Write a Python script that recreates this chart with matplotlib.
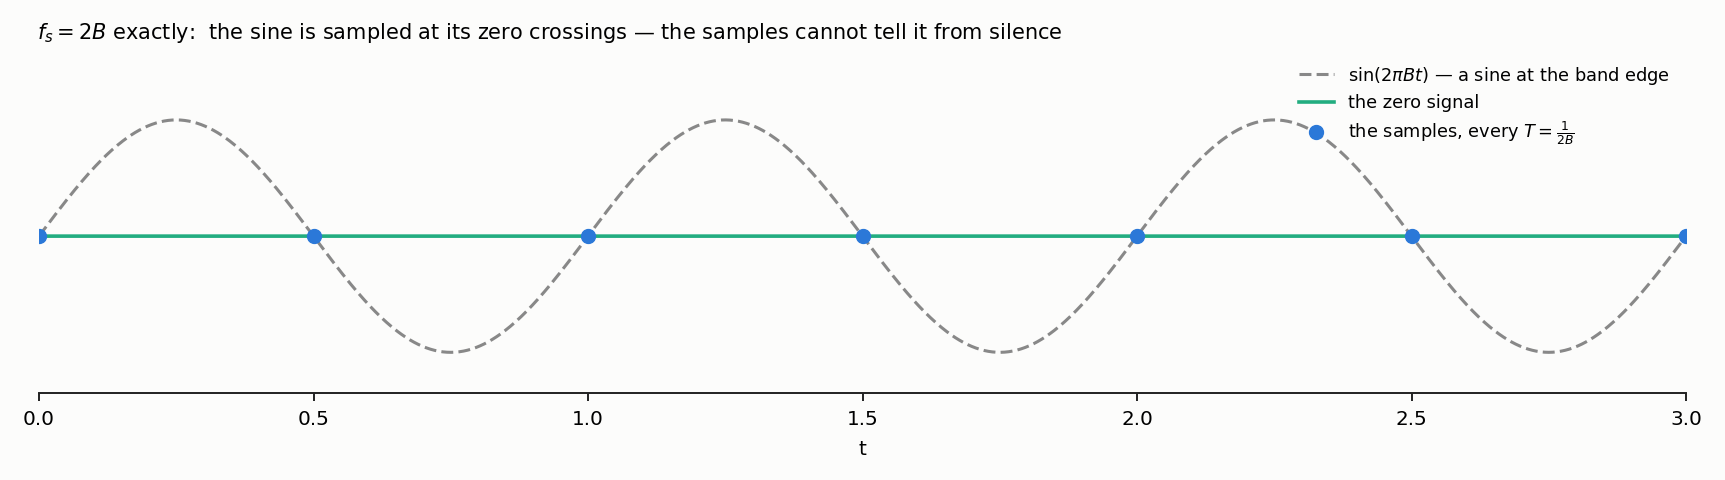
import numpy as np
import matplotlib
matplotlib.use("Agg")
import matplotlib.pyplot as plt

# --- data ---
B = 1.0
t_start, t_end = 0.0, 3.0
sample_times = [0.0, 0.5, 1.0, 1.5, 2.0, 2.5, 3.0]
sample_values = [0, 0, 0, 0, 0, 0, 0]
xticks = [0.0, 0.5, 1.0, 1.5, 2.0, 2.5, 3.0]
xtick_labels = ["0.0", "0.5", "1.0", "1.5", "2.0", "2.5", "3.0"]
title = r"$f_s = 2B$ exactly:  the sine is sampled at its zero crossings — the samples cannot tell it from silence"
labels = [r"$\sin(2\pi Bt)$ — a sine at the band edge", "the zero signal",
          r"the samples, every $T = \frac{1}{2B}$"]

t = np.linspace(t_start, t_end, 1200)
sine = np.sin(2 * np.pi * B * t)
zero = np.zeros_like(t)

bg = "#fcfcfb"
fig = plt.figure(figsize=(17.25, 4.8), dpi=100, facecolor=bg)
ax = fig.add_axes([39/1725, 1 - 393/480, (1686-39)/1725, (393-56)/480], facecolor=bg)

ax.plot(t, sine, color="#888888", lw=2.2, ls=(0, (3.9, 1.7)), label=labels[0], zorder=2)
ax.plot(t, zero, color="#22ad80", lw=2.6, label=labels[1], zorder=3)
ax.plot(sample_times, sample_values, ls="none", marker="o", ms=10,
        color="#2b78d8", label=labels[2], zorder=4)

ax.set_xlim(t_start, t_end)
ax.set_ylim(-1.35, 1.55)
ax.set_xticks(xticks)
ax.set_xticklabels(xtick_labels)
ax.set_yticks([])
for s in ["top", "right", "left"]:
    ax.spines[s].set_visible(False)
ax.spines["bottom"].set_color("#222222")
ax.spines["bottom"].set_linewidth(1.4)
ax.tick_params(axis="x", labelsize=14.4, length=6, width=1.4, color="#222222", pad=6)
ax.set_xlabel("t", fontsize=14.4, labelpad=8)

fig.text(37/1725, 1 - 33/480, title, fontsize=15, ha="left", va="center")

leg = ax.legend(loc="upper right", frameon=False, fontsize=12.75,
                bbox_to_anchor=(1.0, 1.022), handlelength=2.0, labelspacing=0.41)

fig.savefig("out.png", dpi=100, facecolor=bg)
